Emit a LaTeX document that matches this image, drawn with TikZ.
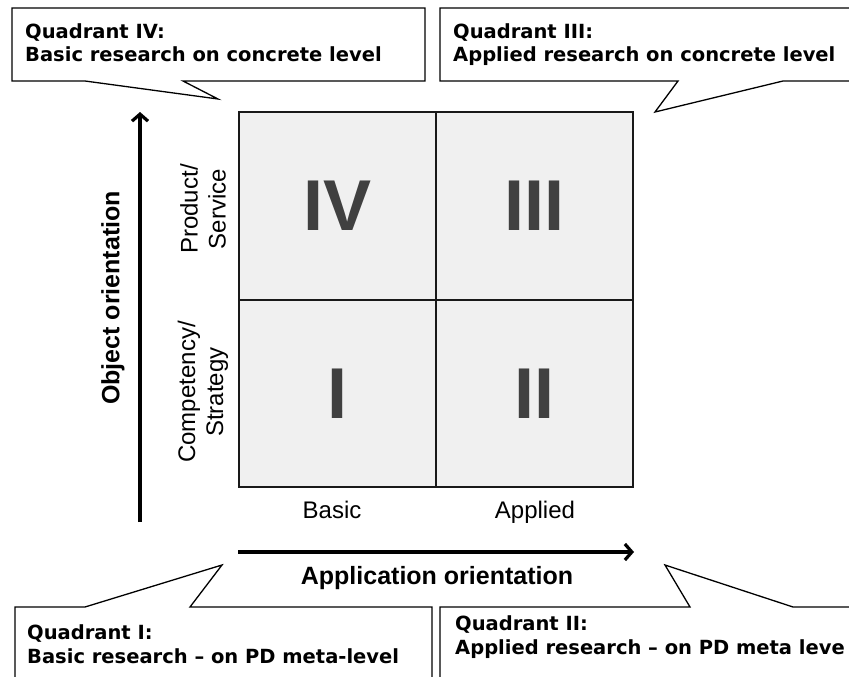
\documentclass[tikz,border=0pt]{standalone}
\usepackage{fontspec}
\setmainfont{Liberation Sans}
\newfontfamily\callfont{DejaVu Sans}
\usetikzlibrary{arrows.meta}
\definecolor{cellfill}{RGB}{240,240,240}
\definecolor{gridline}{RGB}{25,25,25}
\definecolor{numeral}{RGB}{64,64,64}
\tikzset{
  callout/.style={draw=black, line width=1.3pt, fill=white, line join=miter},
  calltext/.style={anchor=base west, inner sep=0pt, align=left,
    font=\callfont\bfseries\fontsize{19.5}{23.5}\selectfont},
  cell/.style={draw=gridline, line width=1.6pt, fill=cellfill,
    minimum width=197pt, minimum height=187.5pt, inner sep=0pt,
    text=numeral, font=\bfseries\fontsize{72}{72}\selectfont},
  axislabel/.style={inner sep=0pt, font=\fontsize{24}{28}\selectfont, align=center},
  axistitle/.style={inner sep=0pt, font=\bfseries\fontsize{25}{28}\selectfont},
  axisarrow/.style={line width=3.2pt, -{Straight Barb[length=7pt,width=16pt]}}
}
\begin{document}
\begin{tikzpicture}[x=1pt,y=-1pt]
\clip (0,0) rectangle (849,677);
\fill[white] (0,0) rectangle (849,677);

% grid cells
\node[cell] (c4) at (337.5,206) {IV};
\node[cell] (c3) at (534.5,206) {III};
\node[cell] (c1) at (337.5,393.5) {I};
\node[cell] (c2) at (534.5,393.5) {II};

% axis labels
\node[axislabel, rotate=90] (prod) at (203,209) {Product/\\Service};
\node[axislabel, rotate=90] (comp) at (203,392) {Competency/\\Strategy};
\node[axislabel, anchor=base] (basic) at (332,518) {Basic};
\node[axislabel, anchor=base] (applied) at (535,518) {Applied};

% axes
\coordinate (vs) at (140,522);
\coordinate (ve) at (140,112);
\coordinate (hs) at (238,552);
\coordinate (he) at (634,552);
\draw[axisarrow] (vs) -- (ve);
\draw[axisarrow] (hs) -- (he);
\node[axistitle, rotate=90] (obj) at (113,298) {Object orientation};
\node[axistitle] (app) at (437,578) {Application orientation};

% callouts
\draw[callout] (12,8) -- (425,8) -- (425,81) -- (183,81) -- (218,99) -- (85,81) -- (12,81) -- cycle;
\node[calltext] (t4) at (25,62) {Quadrant IV:\\Basic research on concrete level};

\draw[callout] (440,8) -- (870,8) -- (870,81) -- (783,81) -- (655,112) -- (678,81) -- (440,81) -- cycle;
\node[calltext] (t3) at (453,62) {Quadrant III:\\Applied research on concrete level};

\draw[callout] (15,700) -- (15,607) -- (85,607) -- (222,565) -- (190,607) -- (432,607) -- (432,700);
\node[calltext] (t1) at (27,663) {Quadrant I:\\Basic research – on PD meta-level};

\draw[callout] (440,700) -- (440,607) -- (690,607) -- (665,565) -- (793,607) -- (870,607);
\node[calltext] (t2) at (455,654) {Quadrant II:\\Applied research – on PD meta leve};
\end{tikzpicture}
\end{document}
